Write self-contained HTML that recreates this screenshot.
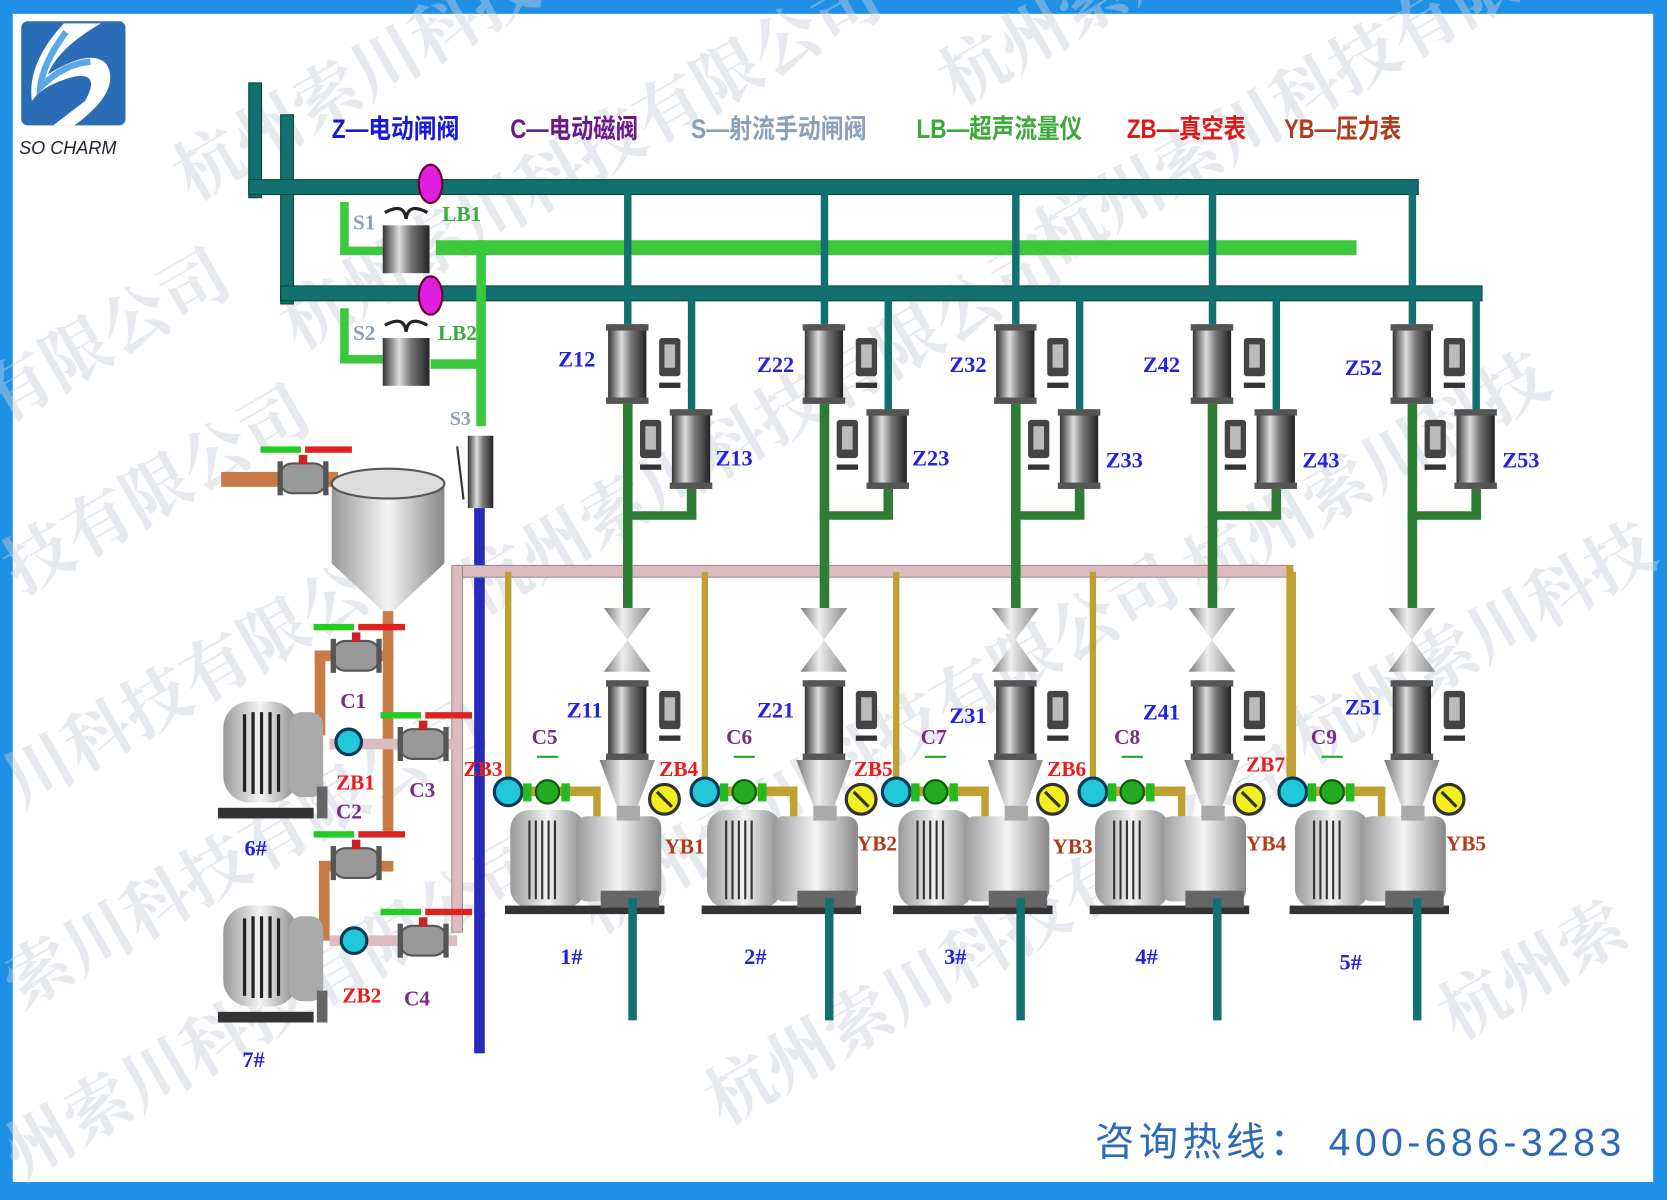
<!DOCTYPE html>
<html><head><meta charset="utf-8"><style>
html,body{margin:0;padding:0;background:#fff;}
svg{display:block;}
text{font-family:"Liberation Serif","Noto Serif CJK SC",serif;font-weight:bold;}
.lg{font-family:"Liberation Sans","Noto Sans CJK SC",sans-serif;font-size:25px;font-weight:bold;}
.wm{font-family:"Liberation Sans","Noto Sans CJK SC",sans-serif;font-size:64px;fill:#c8d0dc;opacity:.45;font-weight:normal;}
</style></head><body>
<svg width="1667" height="1200" viewBox="0 0 1568 1129" preserveAspectRatio="none" xmlns="http://www.w3.org/2000/svg">
<defs>
<linearGradient id="gv" x1="0" x2="1"><stop offset="0" stop-color="#333"/><stop offset=".35" stop-color="#ddd"/><stop offset=".6" stop-color="#777"/><stop offset="1" stop-color="#222"/></linearGradient>
<linearGradient id="gp" x1="0" x2="1"><stop offset="0" stop-color="#777"/><stop offset=".4" stop-color="#eee"/><stop offset="1" stop-color="#888"/></linearGradient>
<linearGradient id="gt" x1="0" x2="1"><stop offset="0" stop-color="#999"/><stop offset=".5" stop-color="#f4f4f4"/><stop offset="1" stop-color="#888"/></linearGradient>
<g id="act"><rect x="0" y="0" width="20" height="36" rx="3" fill="#444"/><rect x="5" y="6" width="10" height="22" fill="#bbb"/><rect x="0" y="42" width="20" height="5" fill="#333"/></g>
<g id="zv"><rect x="-18" y="0" width="36" height="75" rx="4" fill="url(#gv)"/><rect x="-20" y="0" width="40" height="6" fill="#555"/><rect x="-20" y="69" width="40" height="6" fill="#555"/></g>
<g id="unit">
 <rect x="-3" y="176" width="7" height="130" fill="#137070"/>
 <rect x="57" y="276" width="7" height="110" fill="#137070"/>
 <rect x="-4" y="380" width="9" height="192" fill="#2d7d35"/>
 <rect x="56" y="460" width="9" height="28" fill="#2d7d35"/>
 <rect x="-4" y="481" width="69" height="8" fill="#2d7d35"/>
 <use href="#zv" x="0" y="305"/><use href="#act" x="30" y="318"/>
 <use href="#zv" x="60" y="385"/><use href="#act" x="12" y="395"/>
 <polygon points="-22,572 22,572 0,602 22,632 -22,632 0,602" fill="url(#gp)"/>
 <use href="#zv" x="0" y="640"/><use href="#act" x="30" y="650"/>
 <polygon points="-26,715 26,715 10,758 -10,758" fill="url(#gp)"/>
 <rect x="-115" y="538" width="6" height="205" fill="#c0a030"/>
 <rect x="-115" y="740" width="90" height="9" fill="#c0a030"/>
 <rect x="-32" y="740" width="7" height="30" fill="#c0a030"/>
 <rect x="-110" y="762" width="70" height="92" rx="18" fill="url(#gt)"/>
 <g stroke="#333" stroke-width="2"><line x1="-92" y1="772" x2="-92" y2="846"/><line x1="-86" y1="772" x2="-86" y2="846"/><line x1="-80" y1="772" x2="-80" y2="846"/><line x1="-74" y1="772" x2="-74" y2="846"/><line x1="-68" y1="772" x2="-68" y2="846"/></g>
 <rect x="-48" y="768" width="80" height="80" rx="10" fill="url(#gt)"/>
 <rect x="-10" y="758" width="22" height="14" fill="#aaa"/>
 <rect x="-115" y="852" width="150" height="8" fill="#333"/>
 <rect x="-25" y="838" width="55" height="16" fill="#666"/>
 <rect x="1" y="845" width="8" height="115" fill="#137070"/>
 <circle cx="-112" cy="745" r="13" fill="#22c8d8" stroke="#0a3a5a" stroke-width="3"/>
 <circle cx="-75" cy="745" r="11" fill="#22aa22" stroke="#0a5a0a" stroke-width="2"/>
 <rect x="-98" y="737" width="8" height="17" fill="#2b2"/><rect x="-62" y="737" width="8" height="17" fill="#2b2"/>
 <line x1="-85" y1="712" x2="-65" y2="712" stroke="#2a2" stroke-width="2"/>
 <circle cx="35" cy="752" r="14" fill="#f0f020" stroke="#333" stroke-width="3"/>
 <line x1="28" y1="745" x2="42" y2="759" stroke="#333" stroke-width="3"/>
</g>
<g id="bv"><rect x="-22" y="-14" width="44" height="28" rx="12" fill="#999" stroke="#555" stroke-width="2"/><rect x="-24" y="-16" width="5" height="32" fill="#555"/><rect x="19" y="-16" width="5" height="32" fill="#555"/><rect x="-4" y="-22" width="8" height="9" fill="#c22"/><rect x="-40" y="-30" width="38" height="6" fill="#2c2"/><rect x="2" y="-30" width="44" height="6" fill="#d22"/></g>
<g id="mot"><rect x="0" y="0" width="70" height="95" rx="25" fill="url(#gt)"/><g stroke="#222" stroke-width="3"><line x1="20" y1="12" x2="20" y2="85"/><line x1="28" y1="10" x2="28" y2="87"/><line x1="36" y1="10" x2="36" y2="87"/><line x1="44" y1="10" x2="44" y2="87"/><line x1="52" y1="12" x2="52" y2="85"/></g><rect x="62" y="10" width="32" height="80" rx="12" fill="#aaa"/><rect x="-5" y="100" width="90" height="10" fill="#333"/><rect x="88" y="80" width="10" height="30" fill="#666"/></g>
</defs>
<rect width="1568" height="1129" fill="#1e90e6"/>
<rect x="12" y="13" width="1543" height="1099" fill="#fff"/>
<g class="wm">
<text transform="translate(180,190) rotate(-30)">杭州索川科技有限公司</text>
<text transform="translate(900,100) rotate(-30)">杭州索川</text>
<text transform="translate(0,400) rotate(-30)">有限公司</text>
<text transform="translate(280,330) rotate(-30)">杭州索川科技有限公司</text>
<text transform="translate(990,250) rotate(-30)">杭州索川科技有限公司</text>
<text transform="translate(20,560) rotate(-30)">技有限公司</text>
<text transform="translate(450,580) rotate(-30)">杭州索川科技有限公司</text>
<text transform="translate(1130,560) rotate(-30)">杭州索川科技</text>
<text transform="translate(20,760) rotate(-30)">川科技有限公司</text>
<text transform="translate(560,880) rotate(-30)">杭州索川科技有限公司</text>
<text transform="translate(1230,720) rotate(-30)">杭州索川科技</text>
<text transform="translate(20,950) rotate(-30)">索川科技有限公司</text>
<text transform="translate(680,1060) rotate(-30)">杭州索川科技有限公司</text>
<text transform="translate(1370,980) rotate(-30)">杭州索</text>
<text transform="translate(20,1110) rotate(-30)">州索川科技有限公司</text>
</g>
<!-- logo -->
<rect x="20" y="20" width="98" height="98" rx="6" fill="#2a6cb5"/>
<path d="M60 22 Q25 60 30 95 Q40 80 70 72 Q95 68 80 95 L50 118 L70 118 Q115 85 100 60 Q85 45 45 70 Q55 45 95 22 Z" fill="#fff"/>
<path d="M62 30 Q40 60 38 82 Q60 60 85 58" fill="none" stroke="#5aa8e8" stroke-width="6"/>
<text x="18" y="145" style="font-family:'Liberation Sans',sans-serif;font-weight:normal;font-style:italic;font-size:17px" fill="#223">SO CHARM</text>
<!-- legend -->
<text class="lg" x="312" y="130" fill="#1a1ad8" textLength="120" lengthAdjust="spacingAndGlyphs">Z—电动闸阀</text>
<text class="lg" x="480" y="130" fill="#6a1a8a" textLength="120" lengthAdjust="spacingAndGlyphs">C—电动磁阀</text>
<text class="lg" x="650" y="130" fill="#8aa0b8" textLength="165" lengthAdjust="spacingAndGlyphs">S—射流手动闸阀</text>
<text class="lg" x="862" y="130" fill="#3aaa3a" textLength="156" lengthAdjust="spacingAndGlyphs">LB—超声流量仪</text>
<text class="lg" x="1060" y="130" fill="#e01818" textLength="112" lengthAdjust="spacingAndGlyphs">ZB—真空表</text>
<text class="lg" x="1208" y="130" fill="#b03a1a" textLength="110" lengthAdjust="spacingAndGlyphs">YB—压力表</text>
<!-- main pipes -->
<rect x="234" y="78" width="12" height="108" fill="#137070" stroke="#043" stroke-width="1"/>
<rect x="264" y="108" width="12" height="178" fill="#137070" stroke="#043" stroke-width="1"/>
<rect x="234" y="169" width="1100" height="14" fill="#137070" stroke="#043" stroke-width="1"/>
<rect x="264" y="269" width="1130" height="14" fill="#137070" stroke="#043" stroke-width="1"/>
<rect x="410" y="226" width="866" height="14" fill="#3cc83c"/>
<rect x="448" y="226" width="9" height="175" fill="#3cc83c"/>
<rect x="320" y="190" width="8" height="50" fill="#3cc83c"/><rect x="320" y="232" width="40" height="8" fill="#3cc83c"/>
<rect x="320" y="290" width="8" height="52" fill="#3cc83c"/><rect x="320" y="334" width="40" height="8" fill="#3cc83c"/>
<rect x="405" y="338" width="45" height="9" fill="#3cc83c"/>
<rect x="360" y="212" width="44" height="45" fill="url(#gv)"/>
<rect x="360" y="318" width="44" height="45" fill="url(#gv)"/>
<ellipse cx="405" cy="173" rx="11" ry="18" fill="#e020e0" stroke="#602" stroke-width="2"/>
<ellipse cx="405" cy="278" rx="11" ry="18" fill="#e020e0" stroke="#602" stroke-width="2"/>
<path d="M362 200 Q380 190 382 206 Q384 190 402 200" fill="none" stroke="#222" stroke-width="3"/>
<path d="M362 306 Q380 296 382 312 Q384 296 402 306" fill="none" stroke="#222" stroke-width="3"/>
<text x="332" y="216" font-size="20" fill="#8aa0b8">S1</text><text x="416" y="208" font-size="20" fill="#3aaa3a">LB1</text>
<text x="332" y="320" font-size="20" fill="#8aa0b8">S2</text><text x="412" y="320" font-size="20" fill="#3aaa3a">LB2</text>
<!-- S3 & blue -->
<rect x="446" y="478" width="10" height="513" fill="#2a2ab8"/>
<rect x="440" y="410" width="24" height="68" fill="url(#gv)"/>
<line x1="430" y1="420" x2="436" y2="470" stroke="#333" stroke-width="2"/>
<text x="423" y="400" font-size="19" fill="#8aa0b8">S3</text>
<!-- pink pipe -->
<rect x="428" y="532" width="788" height="11" fill="#dcbcc0" stroke="#a08890" stroke-width="1"/>
<rect x="425" y="532" width="10" height="345" fill="#dcbcc0" stroke="#a08890" stroke-width="1"/>
<rect x="1210" y="532" width="6" height="210" fill="#c0a030"/>
<!-- units -->
<use href="#unit" x="590"/><use href="#unit" x="775"/><use href="#unit" x="955"/><use href="#unit" x="1140"/><use href="#unit" x="1328"/>
<!-- tank and left -->
<rect x="208" y="444" width="110" height="14" fill="#c87a48"/>
<polygon points="312,455 418,455 418,530 370,575 360,575 312,530" fill="url(#gt)"/>
<ellipse cx="365" cy="455" rx="53" ry="14" fill="#ddd" stroke="#555" stroke-width="2"/>
<use href="#bv" x="285" y="450"/>
<rect x="360" y="575" width="10" height="210" fill="#c87a48"/>
<rect x="296" y="612" width="74" height="10" fill="#c87a48"/><rect x="296" y="612" width="10" height="80" fill="#c87a48"/>
<rect x="300" y="810" width="70" height="10" fill="#c87a48"/><rect x="300" y="810" width="10" height="75" fill="#c87a48"/>
<rect x="310" y="695" width="120" height="10" fill="#dcbcc0"/>
<rect x="310" y="880" width="120" height="10" fill="#dcbcc0"/>
<use href="#bv" x="335" y="617"/><use href="#bv" x="398" y="700"/><use href="#bv" x="335" y="812"/><use href="#bv" x="398" y="885"/>
<use href="#mot" x="210" y="660"/><use href="#mot" x="210" y="852"/>
<circle cx="328" cy="698" r="12" fill="#22c8d8" stroke="#0a3a5a" stroke-width="3"/>
<circle cx="333" cy="885" r="12" fill="#22c8d8" stroke="#0a3a5a" stroke-width="3"/>
<!-- labels -->
<g font-size="21" fill="#2222dd">
<text x="525" y="345">Z12</text><text x="673" y="438">Z13</text><text x="712" y="350">Z22</text><text x="858" y="438">Z23</text><text x="893" y="350">Z32</text><text x="1040" y="440">Z33</text><text x="1075" y="350">Z42</text><text x="1225" y="440">Z43</text><text x="1265" y="353">Z52</text><text x="1413" y="440">Z53</text>
<text x="533" y="675">Z11</text><text x="712" y="675">Z21</text><text x="893" y="680">Z31</text><text x="1075" y="677">Z41</text><text x="1265" y="672">Z51</text>
<text x="527" y="907">1#</text><text x="700" y="907">2#</text><text x="888" y="907">3#</text><text x="1068" y="907">4#</text><text x="1260" y="912">5#</text>
<text x="230" y="805">6#</text><text x="228" y="1004">7#</text>
</g>
<g font-size="20" fill="#7a2a8a">
<text x="500" y="700">C5</text><text x="683" y="700">C6</text><text x="866" y="700">C7</text><text x="1048" y="700">C8</text><text x="1233" y="700">C9</text>
<text x="320" y="666">C1</text><text x="316" y="770">C2</text><text x="385" y="750">C3</text><text x="380" y="946">C4</text>
</g>
<g font-size="20" fill="#ee1a1a">
<text x="436" y="730">ZB3</text><text x="620" y="730">ZB4</text><text x="803" y="730">ZB5</text><text x="985" y="730">ZB6</text><text x="1172" y="726">ZB7</text>
<text x="316" y="743">ZB1</text><text x="322" y="943">ZB2</text>
</g>
<g font-size="20" fill="#b03a1a">
<text x="625" y="803">YB1</text><text x="806" y="800">YB2</text><text x="990" y="803">YB3</text><text x="1172" y="800">YB4</text><text x="1360" y="800">YB5</text>
</g>
<text x="1030" y="1087" textLength="495" style="font-family:'Liberation Sans','Noto Sans CJK SC',sans-serif;font-weight:normal;font-size:37px" fill="#2a6ab8">咨询热线： 400-686-3283</text>
</svg>
</body></html>
